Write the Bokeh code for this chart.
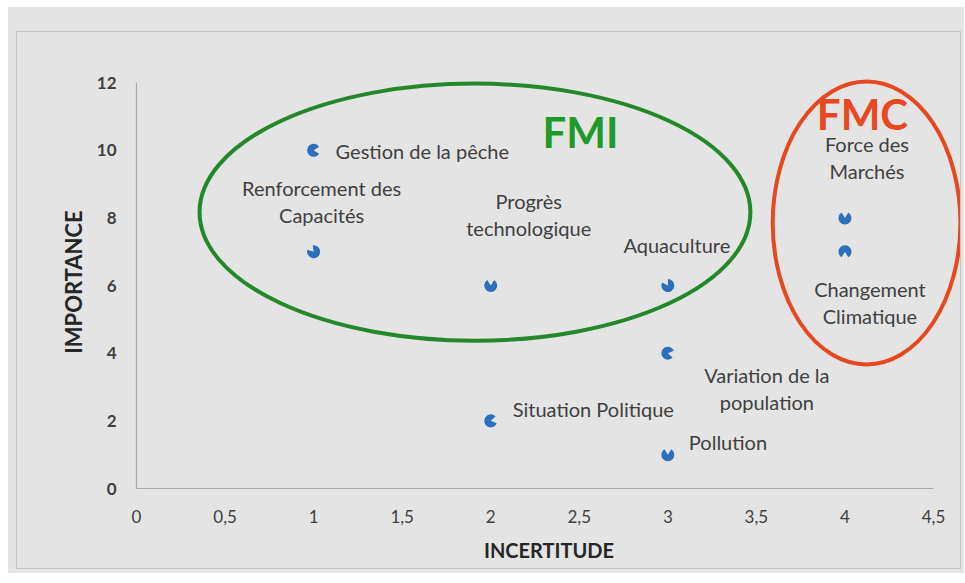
import math
from bokeh.plotting import figure
from bokeh.layouts import column
from bokeh.models import (Range1d, FixedTicker, CustomJSTickFormatter, ColumnDataSource,
                          Label, Ellipse)
from bokeh.core.properties import value
from bokeh.embed import file_html
from bokeh.resources import INLINE

# ---------------- data ----------------
factors = ["Gestion de la pêche", "Renforcement des\nCapacités", "Progrès\ntechnologique",
           "Aquaculture", "Variation de la\npopulation", "Situation Politique", "Pollution",
           "Force des\nMarchés", "Changement\nClimatique"]
incertitude = [1, 1, 2, 3, 3, 2, 3, 4, 4]
importance = [10, 7, 6, 6, 4, 2, 1, 8, 7]

x_ticks = [0, 0.5, 1, 1.5, 2, 2.5, 3, 3.5, 4, 4.5]
y_ticks = [0, 2, 4, 6, 8, 10, 12]

groups = ["FMI", "FMC"]
group_cx = [1.911, 4.122]
group_cy = [8.17, 7.85]
group_w = [3.11, 1.06]
group_h = [7.60, 8.37]
group_label_x = [2.507, 4.099]
group_label_y = [10.55, 11.06]

# ---------------- styles ----------------
FONT = "Lato"
TXT = "#404040"
BG = "#e4e4e4"
label_dx = [22, 8, 38, 9, 99, 22, 21, 22, 25]
label_dy = [1, -50, -71, -41, 35, -12, -13, -60, 51]
label_align = ["left", "center", "center", "center", "center", "left", "left", "center", "center"]
gap_dir_deg = [0, 130, 90, 120, -10, 10, 90, 90, 270]
group_line_colors = ["#23882A", "#E8481F"]
group_text_colors = ["#1E9A2A", "#E8481F"]

p = figure(width=945, height=538, output_backend="svg", toolbar_location=None,
           x_range=Range1d(0, 4.658), y_range=Range1d(0, 12.21),
           min_border_left=119, min_border_right=1, min_border_top=43, min_border_bottom=82,
           margin=(24, 3, 4, 8))
p.styles = {"border": "1px solid #c4c4c4"}
p.background_fill_color = BG
p.border_fill_color = BG
p.outline_line_color = None
p.grid.visible = False

for ax in (p.xaxis[0], p.yaxis[0]):
    ax.axis_line_color = "#a8a8a8"
    ax.axis_line_width = 1.2
    ax.major_tick_line_color = None
    ax.minor_tick_line_color = None
    ax.major_tick_out = 0
    ax.major_tick_in = 0
    ax.major_label_text_color = TXT
    ax.major_label_text_font = FONT
    ax.axis_label_text_color = "#262626"
    ax.axis_label_text_font = FONT
    ax.axis_label_text_font_style = "bold"

p.xaxis.ticker = FixedTicker(ticks=x_ticks)
p.xaxis.formatter = CustomJSTickFormatter(code="return tick.toString().replace('.', ',');")
p.xaxis.bounds = (x_ticks[0], x_ticks[-1])
p.xaxis.major_label_standoff = 21
p.xaxis.major_label_text_font_size = "17px"
p.xaxis.axis_label = "INCERTITUDE"
p.xaxis.axis_label_text_font_size = "20px"
p.xaxis.axis_label_standoff = 12

p.yaxis.ticker = FixedTicker(ticks=y_ticks)
p.yaxis.bounds = (y_ticks[0], y_ticks[-1])
p.yaxis.major_label_standoff = 20
p.yaxis.major_label_text_font_size = "17px"
p.yaxis.major_label_text_font_style = "bold"
p.yaxis.axis_label = "IMPORTANCE"
p.yaxis.axis_label_text_font_size = "22px"
p.yaxis.axis_label_standoff = 7

# group ellipses
gsrc = ColumnDataSource(dict(x=group_cx, y=group_cy, w=group_w, h=group_h, c=group_line_colors))
p.add_glyph(gsrc, Ellipse(x="x", y="y", width="w", height="h", fill_alpha=0,
                          line_color="c", line_width=4))

# points: circles with a small gap facing their label
gap = math.radians(32)
starts = [math.radians(d) + gap for d in gap_dir_deg]
ends = [math.radians(d) - gap + 2 * math.pi for d in gap_dir_deg]
psrc = ColumnDataSource(dict(x=incertitude, y=importance, s=starts, e=ends))
p.wedge(x="x", y="y", radius=6.5, radius_units="screen", start_angle="s", end_angle="e",
        source=psrc, fill_color="#2C6FBF", line_color=None)

# point labels
lsrc = ColumnDataSource(dict(x=incertitude, y=importance, t=factors, dx=label_dx,
                             dy=label_dy, al=label_align))
p.text(x="x", y="y", text="t", x_offset="dx", y_offset="dy", text_align="al",
       text_baseline="middle", text_font=value(FONT), text_font_size="20px",
       text_color=TXT, text_line_height=1.12, source=lsrc)

# group labels
for g, gx, gy, gc in zip(groups, group_label_x, group_label_y, group_text_colors):
    p.add_layout(Label(x=gx, y=gy, text=g, text_align="center", text_baseline="middle",
                       text_font=FONT, text_font_size="42px", text_font_style="bold",
                       text_color=gc))

root = column(p, margin=(7, 0, 0, 8), styles={"background-color": BG})
open("out.html", "w").write(file_html(root, INLINE))
